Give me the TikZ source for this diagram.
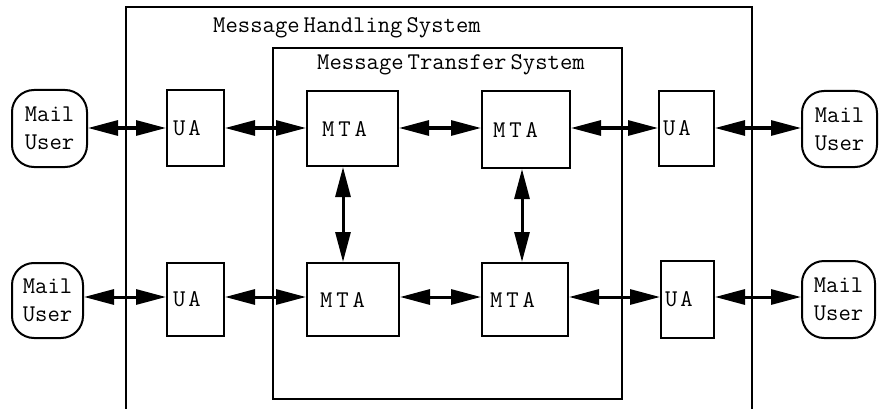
\documentclass[tikz,border=0pt]{standalone}
\usepackage{fontspec}
\setmonofont{Latin Modern Mono}
\usetikzlibrary{arrows.meta}
\begin{document}
\begin{tikzpicture}[x=1pt,y=-1pt,
  every node/.style={font=\ttfamily\fontsize{24}{28}\selectfont},
  frame/.style={line width=2pt},
  unit/.style={draw, line width=2pt, inner ysep=0pt, align=left},
  user/.style={draw, line width=2pt, rounded corners=22pt, align=center, inner sep=0pt},
  link/.style={line width=3pt,
    {Triangle[length=30pt,width=15pt]}-{Triangle[length=30pt,width=15pt]}},
  title/.style={anchor=base west, inner sep=0pt}
]
\useasboundingbox[fill=white] (0,0) rectangle (880,409);

% Message Handling System (open at the bottom)
\draw[frame] (126,409) -- (126,7) -- (752,7) -- (752,409);
\node[title] (mhs) at (213,33) {\spaceskip=4pt\relax Message Handling System};

% Message Transfer System
\draw[frame] (273,48) rectangle (622,399);
\begin{scope}
  \clip (273,40) rectangle (584,90);
  \node[title] (mts) at (317,70) {\spaceskip=4pt\relax Message Transfer System};
\end{scope}

% row and column guides for the connectors
\coordinate (r1) at (0,128);
\coordinate (r2) at (0,297);
\coordinate (c1) at (343,0);
\coordinate (c2) at (522,0);

% upper row
\node[user, minimum width=75pt, minimum height=77pt] (mu1) at (49.5,128.5) {Mail\\User};
\node[unit, text width=45pt, inner xsep=6pt, minimum height=76pt] (ua1) at (195.5,128) {U\kern3pt A};
\node[unit, text width=61pt, inner xsep=15pt, minimum height=75pt] (mta1) at (352.5,128.5) {M\kern4pt T\kern4pt A};
\node[unit, text width=66pt, inner xsep=11pt, minimum height=77pt] (mta2) at (526,129.5) {M\kern4pt T\kern4pt A};
\node[unit, text width=47pt, inner xsep=4pt, minimum height=75pt] (ua2) at (686.5,128.5) {U\kern3pt A};
\node[user, minimum width=75pt, minimum height=76pt] (mu2) at (839.5,129) {Mail\\User};

% lower row
\node[user, minimum width=71pt, minimum height=75pt] (mu3) at (47.5,300.5) {Mail\\User};
\node[unit, text width=45pt, inner xsep=6pt, minimum height=73pt] (ua3) at (195.5,299.5) {U\kern3pt A};
\node[unit, text width=66pt, inner xsep=13pt, minimum height=73pt] (mta3) at (353,299.5) {M\kern4pt T\kern4pt A};
\node[unit, text width=70pt, inner xsep=8pt, minimum height=73pt] (mta4) at (525,299.5) {M\kern4pt T\kern4pt A};
\node[unit, text width=45pt, inner xsep=4pt, minimum height=77pt] (ua4) at (687.5,299.5) {U\kern3pt A};
\node[user, minimum width=73pt, minimum height=77pt] (mu4) at (838.5,299.5) {Mail\\User};

% connectors, upper row
\draw[link] (mu1.east |- r1) -- (ua1.west |- r1);
\draw[link] (ua1.east |- r1) -- (mta1.west |- r1);
\draw[link] (mta1.east |- r1) -- (mta2.west |- r1);
\draw[link] (mta2.east |- r1) -- (ua2.west |- r1);
\draw[link] (ua2.east |- r1) -- (mu2.west |- r1);

% connectors, lower row
\draw[link] (mu3.east |- r2) -- (ua3.west |- r2);
\draw[link] (ua3.east |- r2) -- (mta3.west |- r2);
\draw[link] (mta3.east |- r2) -- (mta4.west |- r2);
\draw[link] (mta4.east |- r2) -- (ua4.west |- r2);
\draw[link] (ua4.east |- r2) -- (mu4.west |- r2);

% connectors between the rows
\draw[link] (mta1.south -| c1) -- (mta3.north -| c1);
\draw[link] (mta2.south -| c2) -- (mta4.north -| c2);
\end{tikzpicture}
\end{document}
